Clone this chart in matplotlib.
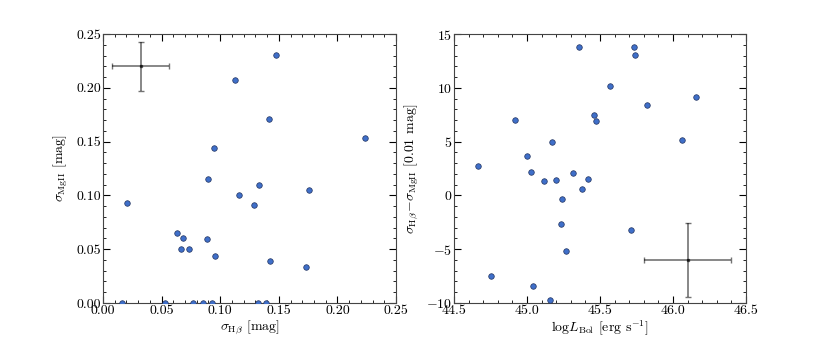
import matplotlib
matplotlib.use("Agg")
import matplotlib.pyplot as plt
from matplotlib.ticker import AutoMinorLocator

plt.rcParams['font.family'] = 'serif'
plt.rcParams['font.serif'] = ['cmr10', 'DejaVu Serif']
plt.rcParams['mathtext.fontset'] = 'cm'
plt.rcParams['axes.formatter.use_mathtext'] = True
plt.rcParams['axes.unicode_minus'] = True

# left panel: sigma_Hbeta vs sigma_MgII
sig_hb = [0.0206, 0.1478, 0.1126, 0.1413, 0.2238, 0.0943, 0.0898, 0.1157, 0.1332,
          0.1289, 0.1754, 0.0633, 0.0681, 0.0890, 0.0664, 0.0735, 0.0954, 0.1425,
          0.1734, 0.0160, 0.0530, 0.0765, 0.0850, 0.0930, 0.1325, 0.1390]
sig_mg = [0.0928, 0.2308, 0.2076, 0.1714, 0.1532, 0.1442, 0.1151, 0.1006, 0.1095,
          0.0907, 0.1049, 0.0647, 0.0603, 0.0594, 0.0498, 0.0501, 0.0436, 0.0390,
          0.0337, 0.0, 0.0, 0.0, 0.0, 0.0, 0.0, 0.0]
err_left = (0.032, 0.22, 0.024, 0.023)  # x, y, xerr, yerr

# right panel: log L_Bol vs sigma difference
log_lbol = [44.664, 44.753, 44.916, 45.002, 45.030, 45.041, 45.116, 45.155, 45.169,
            45.199, 45.237, 45.235, 45.267, 45.315, 45.354, 45.377, 45.420, 45.461,
            45.475, 45.571, 45.710, 45.731, 45.742, 45.820, 46.062, 46.160]
sig_diff = [2.75, -7.52, 7.02, 3.68, 2.19, -8.45, 1.32, -9.75, 4.97,
            1.41, -0.38, -2.70, -5.21, 2.10, 13.82, 0.55, 1.51, 7.51,
            6.96, 10.17, -3.19, 13.82, 13.08, 8.38, 5.19, 9.18]
err_right = (46.1, -6.0, 0.3, 3.4)

fig = plt.figure(figsize=(8.3, 3.37), dpi=100)
ax1 = fig.add_axes([103/830, 34/337, 293/830, 269/337])
ax2 = fig.add_axes([454/830, 34/337, 292/830, 269/337])

pt = dict(s=16, c='#3f6fc9', edgecolors='#22335f', linewidths=0.5, zorder=3)
eb = dict(fmt='s', color='black', ms=2, elinewidth=1.2, capsize=2, alpha=0.55, zorder=2)

ax1.scatter(sig_hb, sig_mg, **pt)
ax1.errorbar(err_left[0], err_left[1], xerr=err_left[2], yerr=err_left[3], **eb)
ax1.set_xlim(0, 0.25)
ax1.set_ylim(0, 0.25)
ax1.set_xlabel(r'$\sigma_{\rm H\beta}$ [mag]', fontsize=10, labelpad=1)
ax1.set_ylabel(r'$\sigma_{\rm MgII}$ [mag]', fontsize=10, labelpad=4)
ax1.set_xticks([0, 0.05, 0.10, 0.15, 0.20, 0.25])
ax1.set_yticks([0, 0.05, 0.10, 0.15, 0.20, 0.25])
ax1.set_xticklabels(['0.00', '0.05', '0.10', '0.15', '0.20', '0.25'])
ax1.set_yticklabels(['0.00', '0.05', '0.10', '0.15', '0.20', '0.25'])

ax2.scatter(log_lbol, sig_diff, **pt)
ax2.errorbar(err_right[0], err_right[1], xerr=err_right[2], yerr=err_right[3], **eb)
ax2.set_xlim(44.5, 46.5)
ax2.set_ylim(-10, 15)
ax2.set_xticks([44.5, 45.0, 45.5, 46.0, 46.5])
ax2.set_xticklabels(['44.5', '45.0', '45.5', '46.0', '46.5'])
ax2.set_yticks([-10, -5, 0, 5, 10, 15])
ax2.set_xlabel(r'$\log\!L_{\rm Bol}$ [erg s$^{-1}$]', fontsize=10, labelpad=1)
ax2.set_ylabel(r'$\sigma_{\rm H\beta}\!-\!\sigma_{\rm MgII}$ [0.01 mag]', fontsize=10, labelpad=4)

for ax in (ax1, ax2):
    ax.xaxis.set_minor_locator(AutoMinorLocator(5))
    ax.yaxis.set_minor_locator(AutoMinorLocator(5))
    ax.tick_params(which='both', direction='in', top=True, right=True, labelsize=10, pad=1.5)
    ax.tick_params(which='major', length=5)
    ax.tick_params(which='minor', length=2.5)
    for s in ax.spines.values():
        s.set_color('#444444')

fig.savefig('out.png', dpi=100)
